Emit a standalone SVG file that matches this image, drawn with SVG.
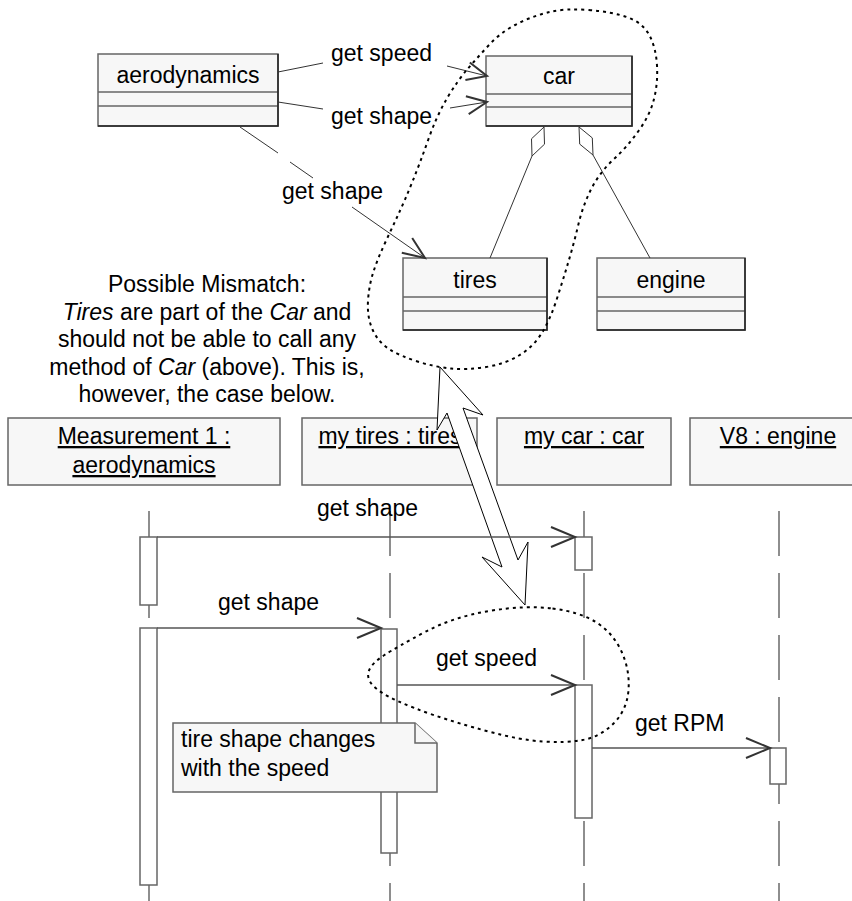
<svg xmlns="http://www.w3.org/2000/svg" width="852" height="901" viewBox="0 0 852 901">
<style>
.box{fill:#f7f7f7;stroke:#666;stroke-width:1.5}
.sh{stroke:#222;stroke-width:1.5;fill:none}
.t{font-family:"Liberation Sans",Arial,Helvetica,sans-serif;font-size:23px;fill:#000}
.c{text-anchor:middle}
.u{text-decoration:underline}
.ln{stroke:#333;stroke-width:1;fill:none}
.msg{stroke:#555;stroke-width:1.5;fill:none}
.hd{stroke:#333;stroke-width:2;fill:none}
.life{stroke:#444;stroke-width:1.2;stroke-dasharray:45 17}
.act{fill:#fff;stroke:#666;stroke-width:1.5}
.dot{fill:none;stroke:#000;stroke-width:2;stroke-dasharray:3 4}
</style>
<rect width="852" height="901" fill="#fff"/>

<g id="class-aerodynamics">
<rect class="box" x="98" y="54" width="180" height="72"/>
<line class="box" x1="98" y1="92" x2="278" y2="92"/>
<line class="box" x1="98" y1="106" x2="278" y2="106"/>
<polyline class="sh" points="98,126 278,126 278,54"/>
<text class="t c" x="188" y="83">aerodynamics</text>
</g>
<g id="class-car">
<rect class="box" x="486" y="56" width="146" height="70"/>
<line class="box" x1="486" y1="94" x2="632" y2="94"/>
<line class="box" x1="486" y1="107" x2="632" y2="107"/>
<polyline class="sh" points="486,126 632,126 632,56"/>
<text class="t c" x="559" y="84">car</text>
</g>
<g id="class-tires">
<rect class="box" x="403" y="258" width="144" height="72"/>
<line class="box" x1="403" y1="297" x2="547" y2="297"/>
<line class="box" x1="403" y1="311" x2="547" y2="311"/>
<polyline class="sh" points="403,330 547,330 547,258"/>
<text class="t c" x="475" y="288">tires</text>
</g>
<g id="class-engine">
<rect class="box" x="597" y="258" width="148" height="72"/>
<line class="box" x1="597" y1="297" x2="745" y2="297"/>
<line class="box" x1="597" y1="311" x2="745" y2="311"/>
<polyline class="sh" points="597,330 745,330 745,258"/>
<text class="t c" x="671" y="288">engine</text>
</g>

<g id="mismatch-text" class="t c">
<text x="207" y="292">Possible Mismatch:</text>
<text x="207" y="320"><tspan font-style="italic">Tires</tspan> are part of the <tspan font-style="italic">Car</tspan> and</text>
<text x="207" y="347">should not be able to call any</text>
<text x="207" y="375">method of <tspan font-style="italic">Car</tspan> (above). This is,</text>
<text x="207" y="402">however, the case below.</text>
</g>

<g id="class-connectors">
<line class="ln" x1="278" y1="72" x2="323" y2="63"/>
<line class="ln" x1="447" y1="66" x2="487" y2="76"/>
<polyline class="hd" points="469.8,62.5 487,76 465.4,79.9"/>
<text class="t" x="331" y="61">get speed</text>
<line class="ln" x1="278" y1="102" x2="323" y2="109"/>
<line class="ln" x1="450" y1="108" x2="487" y2="102"/>
<polyline class="hd" points="465.9,96.3 487,102 468.7,114.1"/>
<text class="t" x="331" y="124">get shape</text>
<line class="ln" x1="240" y1="127" x2="278" y2="153"/>
<line class="ln" x1="290" y1="162" x2="313" y2="178"/>
<line class="ln" x1="352" y1="207" x2="425" y2="258"/>
<polyline class="hd" points="412.2,238 425,258 401.8,252.8"/>
<text class="t" x="282" y="199">get shape</text>
<line class="ln" x1="532" y1="156" x2="490" y2="258"/>
<polygon class="ln" fill="#fff" points="544,127 544.5,144.2 532,156 531.5,138.8"/>
<line class="ln" x1="593" y1="155" x2="650" y2="258"/>
<polygon class="ln" fill="#fff" points="579,127 592.3,137.9 593,155 579.7,144.1"/>
</g>

<g id="obj-measurement">
<rect class="box" x="8" y="418" width="272" height="67"/>
<text class="t c u" x="144" y="444">Measurement 1 :</text>
<text class="t c u" x="144" y="473">aerodynamics</text>
</g>
<g id="obj-tires">
<rect class="box" x="302" y="418" width="175" height="67"/>
<text class="t c u" x="390" y="444">my tires : tires</text>
</g>
<g id="obj-car">
<rect class="box" x="497" y="418" width="174" height="67"/>
<text class="t c u" x="584" y="444">my car : car</text>
</g>
<g id="obj-v8">
<rect class="box" x="690" y="418" width="175" height="67"/>
<text class="t c u" x="778" y="444">V8 : engine</text>
</g>

<g id="lifelines">
<line class="life" x1="149" y1="511" x2="149" y2="901"/>
<line class="life" x1="390" y1="511" x2="390" y2="901"/>
<line class="life" x1="584" y1="511" x2="584" y2="901"/>
<line class="life" x1="779" y1="511" x2="779" y2="901"/>
<rect class="act" x="140" y="537" width="17" height="68"/>
<rect class="act" x="140" y="628" width="17" height="257"/>
<rect class="act" x="381" y="629" width="16" height="224"/>
<rect class="act" x="575" y="537" width="17" height="33"/>
<rect class="act" x="575" y="685" width="17" height="133"/>
<rect class="act" x="770" y="748" width="16" height="36"/>
</g>

<g id="double-arrow">
<polygon fill="#fff" stroke="#000" stroke-width="1" points="440,367 483,415 463,408 518,560 528,542 525,605 482,557 502,567 447,413 437,430"/>
</g>

<g id="messages">
<line class="msg" x1="157" y1="537" x2="575" y2="537"/>
<polyline class="hd" points="551,527 575,537 551,547"/>
<text class="t" x="317" y="516">get shape</text>
<line class="msg" x1="157" y1="628" x2="381" y2="628"/>
<polyline class="hd" points="357,618 381,628 357,638"/>
<text class="t" x="218" y="610">get shape</text>
<line class="msg" x1="397" y1="685" x2="575" y2="685"/>
<polyline class="hd" points="551,675 575,685 551,695"/>
<text class="t" x="436" y="666">get speed</text>
<line class="msg" x1="592" y1="748" x2="770" y2="748"/>
<polyline class="hd" points="746,738 770,748 746,758"/>
<text class="t" x="635" y="731">get RPM</text>
</g>

<g id="note-tire">
<path class="box" stroke="#444" d="M173,723 H415 L437,743 V792 H173 Z"/>
<polyline class="box" stroke="#444" fill="none" points="415,723 415,743 437,743"/>
<text class="t" x="181" y="747">tire shape changes</text>
<text class="t" x="181" y="776">with the speed</text>
</g>

<g id="highlights">
<path class="dot" d="M 589,10 Q 613,12 628,17.5 Q 643,23 649.5,35.5 Q 656,48 657,65.5 Q 658,83 654,99 Q 650,115 638.5,131 Q 627,147 613.5,159.5 Q 600,172 591.5,188.5 Q 583,205 578.5,224 Q 574,243 568.5,261.5 Q 563,280 556.5,300 Q 550,320 541.5,333.5 Q 533,347 519,355.5 Q 505,364 486,367 Q 467,370 451,368.5 Q 435,367 417.5,361.5 Q 400,356 389,349 Q 378,342 372.5,329.5 Q 367,317 368,301 Q 369,285 373.5,271.5 Q 378,258 385,243 Q 392,228 398.5,214 Q 405,200 412.5,181.5 Q 420,163 428.5,139 Q 437,115 447.5,97.5 Q 458,80 468,68.5 Q 478,57 489,45 Q 500,33 515,25 Q 530,17 547.5,12.5 Q 565,8 589,10 Z"/>
<path class="dot" d="M 552.5,608.5 Q 580,612 596.5,622.5 Q 613,633 621.5,651.5 Q 630,670 628.5,690 Q 627,710 613.5,723.5 Q 600,737 582.5,740 Q 565,743 542.5,741.5 Q 520,740 488.5,731.5 Q 457,723 435,715.5 Q 413,708 396.5,700.5 Q 380,693 373,685.5 Q 366,678 369,670.5 Q 372,663 384.5,655 Q 397,647 425,632 Q 453,617 489,611 Q 525,605 552.5,608.5 Z"/>
</g>
</svg>
